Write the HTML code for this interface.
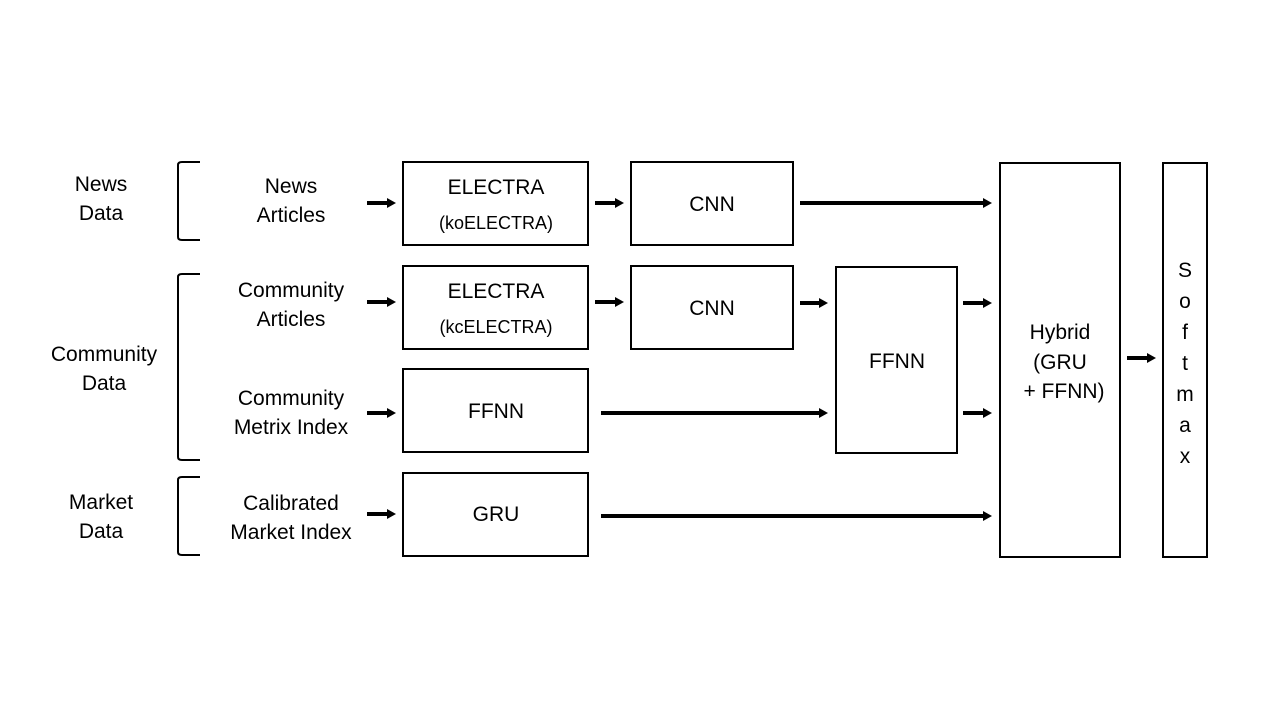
<!DOCTYPE html>
<html><head><meta charset="utf-8"><style>
html,body{margin:0;padding:0;background:#fff;font-family:'Liberation Sans',Arimo,Arial,Helvetica,sans-serif;}
svg{display:block;}
svg text{font-family:'Liberation Sans',Arimo,Arial,Helvetica,sans-serif;}
</style></head><body>
<svg width="1280" height="720" viewBox="0 0 1280 720" xmlns="http://www.w3.org/2000/svg">
<g fill="none" stroke="#000" stroke-width="2">
<rect x="403" y="162" width="185" height="83"/>
<rect x="631" y="162" width="162" height="83"/>
<rect x="403" y="266" width="185" height="83"/>
<rect x="631" y="266" width="162" height="83"/>
<rect x="403" y="369" width="185" height="83"/>
<rect x="403" y="473" width="185" height="83"/>
<rect x="836" y="267" width="121" height="186"/>
<rect x="1000" y="163" width="120" height="394"/>
<rect x="1163" y="163" width="44" height="394"/>
<path d="M200,162 H182 Q178,162 178,165 V237 Q178,240 182,240 H200"/>
<path d="M200,274 H182 Q178,274 178,277 V457 Q178,460 182,460 H200"/>
<path d="M200,477 H182 Q178,477 178,480 V552 Q178,555 182,555 H200"/>
</g>
<g stroke="#000" stroke-width="4">
<line x1="367" y1="203" x2="389" y2="203"/>
<line x1="367" y1="302" x2="389" y2="302"/>
<line x1="367" y1="413" x2="389" y2="413"/>
<line x1="367" y1="514" x2="389" y2="514"/>
<line x1="595" y1="203" x2="617" y2="203"/>
<line x1="595" y1="302" x2="617" y2="302"/>
<line x1="800" y1="203" x2="985" y2="203"/>
<line x1="800" y1="303" x2="821" y2="303"/>
<line x1="601" y1="413" x2="821" y2="413"/>
<line x1="963" y1="303" x2="985" y2="303"/>
<line x1="963" y1="413" x2="985" y2="413"/>
<line x1="601" y1="516" x2="985" y2="516"/>
<line x1="1127" y1="358" x2="1149" y2="358"/>
</g>
<g fill="#000">
<polygon points="387,198 396,203 387,208"/>
<polygon points="387,297 396,302 387,307"/>
<polygon points="387,408 396,413 387,418"/>
<polygon points="387,509 396,514 387,519"/>
<polygon points="615,198 624,203 615,208"/>
<polygon points="615,297 624,302 615,307"/>
<polygon points="983,198 992,203 983,208"/>
<polygon points="819,298 828,303 819,308"/>
<polygon points="819,408 828,413 819,418"/>
<polygon points="983,298 992,303 983,308"/>
<polygon points="983,408 992,413 983,418"/>
<polygon points="983,511 992,516 983,521"/>
<polygon points="1147,353 1156,358 1147,363"/>
</g>
<g font-size="21" text-anchor="middle" style="font-family:'Liberation Sans',Arimo,Arial,Helvetica,sans-serif" fill="#000">
<text x="101" y="191">News</text>
<text x="101" y="220">Data</text>
<text x="104" y="361">Community</text>
<text x="104" y="390">Data</text>
<text x="101" y="509">Market</text>
<text x="101" y="538">Data</text>
<text x="291" y="193">News</text>
<text x="291" y="222">Articles</text>
<text x="291" y="297">Community</text>
<text x="291" y="326">Articles</text>
<text x="291" y="405">Community</text>
<text x="291" y="434">Metrix Index</text>
<text x="291" y="510">Calibrated</text>
<text x="291" y="539">Market Index</text>
<text x="496" y="194">ELECTRA</text>
<text x="496" y="298">ELECTRA</text>
<text x="496" y="418">FFNN</text>
<text x="496" y="521">GRU</text>
<text x="712" y="211">CNN</text>
<text x="712" y="315">CNN</text>
<text x="897" y="368">FFNN</text>
<text x="1060" y="339">Hybrid</text>
<text x="1060" y="369">(GRU</text>
<text x="1064" y="398">+ FFNN)</text>
<text x="1185" y="277">S</text>
<text x="1185" y="308">o</text>
<text x="1185" y="339">f</text>
<text x="1185" y="370">t</text>
<text x="1185" y="401">m</text>
<text x="1185" y="432">a</text>
<text x="1185" y="463">x</text>
</g>
<g font-size="18" text-anchor="middle" style="font-family:'Liberation Sans',Arimo,Arial,Helvetica,sans-serif" fill="#000">
<text x="496" y="229">(koELECTRA)</text>
<text x="496" y="333">(kcELECTRA)</text>
</g>
</svg>
</body></html>
